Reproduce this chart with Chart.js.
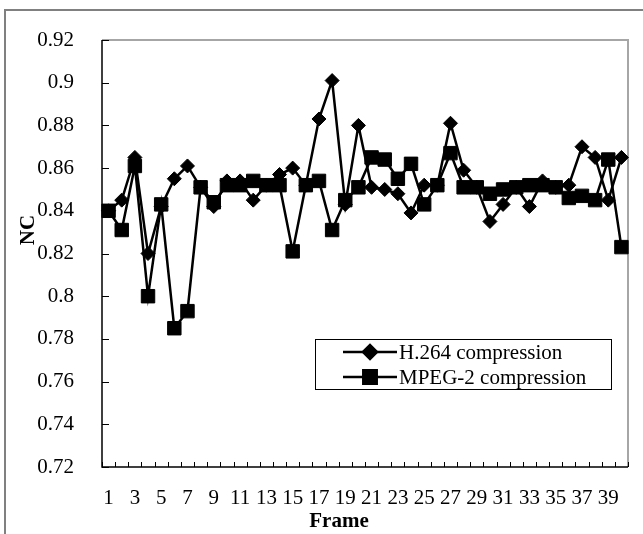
<!DOCTYPE html>
<html><head><meta charset="utf-8">
<script src="https://cdn.jsdelivr.net/npm/chart.js@4.4.1/dist/chart.umd.min.js"></script>
<style>html,body{margin:0;padding:0;background:#fff;} #wrap{position:relative;width:643px;height:534px;} canvas{display:block}</style>
</head><body><div id="wrap"><canvas id="c" width="643" height="534"></canvas></div>
<script>
const frames = [1,2,3,4,5,6,7,8,9,10,11,12,13,14,15,16,17,18,19,20,21,22,23,24,25,26,27,28,29,30,31,32,33,34,35,36,37,38,39,40];
const h264 = [0.840,0.845,0.865,0.820,0.842,0.855,0.861,0.851,0.842,0.854,0.854,0.845,0.852,0.857,0.860,0.852,0.883,0.901,0.843,0.880,0.851,0.850,0.848,0.839,0.852,0.852,0.881,0.859,0.851,0.835,0.843,0.851,0.842,0.854,0.851,0.852,0.870,0.865,0.845,0.865];
const mpeg2 = [0.840,0.831,0.861,0.800,0.843,0.785,0.793,0.851,0.844,0.852,0.852,0.854,0.852,0.852,0.821,0.852,0.854,0.831,0.845,0.851,0.865,0.864,0.855,0.862,0.843,0.852,0.867,0.851,0.851,0.848,0.850,0.851,0.852,0.852,0.851,0.846,0.847,0.845,0.864,0.823];
const seriesNames = ['H.264 compression','MPEG-2 compression'];
const yMin = 0.72, yMax = 0.92, yStep = 0.02;
const xTitle = 'Frame', yTitle = 'NC';

const FONT = "'Times New Roman', 'Liberation Serif', serif";
Chart.defaults.font.family = FONT;
Chart.defaults.color = '#000';

const decor = {
  id: 'decor',
  beforeDraw(chart) {
    const ctx = chart.ctx;
    ctx.save();
    ctx.strokeStyle = '#808080';
    ctx.lineWidth = 2;
    ctx.strokeRect(5, 10, 700, 600);
    ctx.restore();
  },
  beforeDatasetsDraw(chart) {
    const {ctx, chartArea: a, scales: {x, y}} = chart;
    ctx.save();
    ctx.strokeStyle = '#a6a6a6';
    ctx.lineWidth = 2;
    ctx.beginPath();
    ctx.moveTo(a.left, a.top); ctx.lineTo(a.right, a.top); ctx.lineTo(a.right, a.bottom);
    ctx.stroke();
    ctx.strokeStyle = '#000';
    ctx.lineWidth = 1;
    ctx.beginPath();
    y.ticks.forEach(t => {
      const py = Math.round(y.getPixelForValue(t.value)) + 0.5;
      ctx.moveTo(a.left, py); ctx.lineTo(a.left + 7, py);
    });
    const half = (x.getPixelForValue(1) - x.getPixelForValue(0)) / 2;
    for (let i = 0; i <= frames.length; i++) {
      const px = Math.round(x.getPixelForValue(i) - half) + 0.5;
      ctx.moveTo(px, a.bottom); ctx.lineTo(px, a.bottom - 5);
    }
    ctx.stroke();
    ctx.lineWidth = 1.5;
    ctx.beginPath();
    ctx.moveTo(a.left, a.top); ctx.lineTo(a.left, a.bottom); ctx.lineTo(a.right, a.bottom);
    ctx.stroke();
    ctx.restore();
  },
  afterDatasetsDraw(chart) {
    const ctx = chart.ctx;
    ctx.save();
    const bx = 315.5, by = 339.5, bw = 296, bh = 50;
    ctx.fillStyle = '#fff';
    ctx.fillRect(bx, by, bw, bh);
    ctx.strokeStyle = '#000';
    ctx.lineWidth = 1;
    ctx.strokeRect(bx, by, bw, bh);
    chart.data.datasets.forEach((ds, i) => {
      const cy = 352 + i * 25;
      ctx.strokeStyle = '#000';
      ctx.lineWidth = 2.5;
      ctx.beginPath(); ctx.moveTo(343, cy); ctx.lineTo(397, cy); ctx.stroke();
      ctx.fillStyle = '#000';
      Chart.helpers.drawPoint(ctx, {pointStyle: ds.pointStyle, radius: ds.pointRadius, rotation: 0, borderWidth: 1}, 370, cy);
      ctx.fillStyle = '#000';
      ctx.font = "21px " + FONT;
      ctx.textAlign = 'left';
      ctx.textBaseline = 'middle';
      ctx.fillText(ds.label, 399, cy + 1);
    });
    ctx.fillStyle = '#000';
    ctx.font = "bold 21px " + FONT;
    ctx.textAlign = 'center';
    ctx.textBaseline = 'middle';
    ctx.fillText(xTitle, 339, 522);
    ctx.translate(29, 230);
    ctx.rotate(-Math.PI / 2);
    ctx.fillText(yTitle, 0, 0);
    ctx.restore();
  }
};

new Chart(document.getElementById('c'), {
  type: 'line',
  data: {
    labels: frames,
    datasets: [
      {label: seriesNames[0], data: h264, borderColor: '#000', backgroundColor: '#000', borderWidth: 2.5,
       pointStyle: 'rectRot', pointRadius: 7, pointBorderWidth: 1, pointBackgroundColor: '#000', pointBorderColor: '#000', tension: 0, order: 1},
      {label: seriesNames[1], data: mpeg2, borderColor: '#000', backgroundColor: '#000', borderWidth: 2.5,
       pointStyle: 'rect', pointRadius: 9.5, pointBorderWidth: 1, pointBackgroundColor: '#000', pointBorderColor: '#000', tension: 0, order: 0}
    ]
  },
  options: {
    responsive: false,
    animation: false,
    events: [],
    layout: {padding: {left: 2, right: 15, top: 40, bottom: 27}},
    plugins: {legend: {display: false}, tooltip: {enabled: false}, title: {display: false}},
    scales: {
      x: {
        type: 'category', offset: true,
        grid: {display: false}, border: {display: false},
        ticks: {autoSkip: false, maxRotation: 0, minRotation: 0, padding: 11, color: '#000',
                font: {size: 21, family: FONT},
                callback: (v, i) => (i % 2 === 0 ? String(frames[i]) : '')},
        afterFit: s => { s.height = 40; }
      },
      y: {
        min: yMin, max: yMax,
        grid: {display: false}, border: {display: false},
        ticks: {stepSize: yStep, padding: 20, color: '#000', font: {size: 21, family: FONT},
                callback: v => String(Number(v.toFixed(2)))},
        afterFit: s => { s.width = 100; }
      }
    }
  },
  plugins: [decor]
});
</script></body></html>
